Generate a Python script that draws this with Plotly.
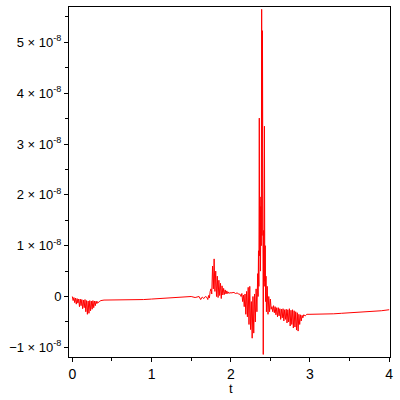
import plotly.graph_objects as go

# time samples and signal values (in units of 1e-8)
t_start = [0.00, 0.01, 0.02, 0.03, 0.04, 0.05, 0.06, 0.07, 0.08, 0.09, 0.10, 0.11, 0.12, 0.13,
           0.14, 0.15, 0.16, 0.17, 0.18, 0.19, 0.20, 0.21, 0.22, 0.23, 0.24, 0.25, 0.26, 0.27,
           0.28, 0.29, 0.30, 0.31, 0.32, 0.33, 0.34, 0.35, 0.36]
v_start = [0.00, -0.08, -0.02, -0.12, -0.03, -0.15, -0.04, -0.13, -0.05, -0.20, -0.05, -0.18,
           -0.06, -0.24, -0.07, -0.22, -0.06, -0.30, -0.08, -0.35, -0.09, -0.33, -0.08, -0.28,
           -0.09, -0.25, -0.08, -0.22, -0.09, -0.18, -0.09, -0.14, -0.10, -0.12, -0.10, -0.09, -0.08]

t_flat1 = [0.40, 0.50, 0.60, 0.70, 0.80, 0.90, 1.00, 1.10, 1.20, 1.30, 1.40, 1.50, 1.55, 1.60,
           1.62, 1.64, 1.66, 1.68]
v_flat1 = [-0.07, -0.07, -0.07, -0.07, -0.06, -0.06, -0.05, -0.04, -0.03, -0.01, 0.00, 0.00,
           -0.02, 0.00, -0.06, -0.01, -0.04, 0.00]

t_bump = [1.70, 1.71, 1.72, 1.73, 1.74, 1.75, 1.76, 1.77, 1.78, 1.79, 1.80, 1.81, 1.82, 1.83,
          1.84, 1.85, 1.86, 1.87, 1.88, 1.89, 1.90, 1.91, 1.92, 1.93, 1.94, 1.95, 1.96, 1.97,
          1.98, 1.99, 2.00, 2.02, 2.04, 2.06, 2.08, 2.10]
v_bump = [-0.02, -0.06, 0.02, -0.03, 0.10, 0.15, 0.05, 0.60, 0.15, 0.74, 0.10, 0.50, 0.00, 0.40,
          -0.02, 0.32, 0.02, 0.26, -0.04, 0.21, 0.03, 0.16, 0.04, 0.13, 0.05, 0.11, 0.06, 0.09,
          0.06, 0.08, 0.07, 0.07, 0.08, 0.06, 0.07, 0.05]

t_pre = [2.12, 2.13, 2.14, 2.15, 2.16, 2.17, 2.18, 2.19, 2.20, 2.21, 2.22, 2.23, 2.24, 2.25,
         2.26, 2.27, 2.28, 2.29, 2.30, 2.31, 2.32, 2.33]
v_pre = [0.04, 0.00, 0.06, -0.10, 0.03, -0.20, 0.05, -0.35, 0.10, -0.40, 0.18, -0.55, 0.20,
         -0.65, -0.10, -0.82, 0.00, -0.72, 0.05, -0.50, 0.15, -0.30]

t_spike = [2.34, 2.345, 2.35, 2.355, 2.36, 2.365, 2.37, 2.375, 2.38, 2.385, 2.39, 2.395, 2.40,
           2.405, 2.41, 2.415, 2.42, 2.425, 2.43, 2.435, 2.44, 2.445, 2.45, 2.46, 2.47, 2.48,
           2.49, 2.50, 2.51]
v_spike = [0.45, 0.00, 0.90, 0.20, 3.51, 0.80, 1.96, 0.50, 1.77, 1.00, 5.65, 1.20, 5.23, 0.60,
           -1.14, 1.30, 0.30, 3.35, 0.20, 1.00, -0.10, 0.40, -0.30, 0.20, -0.35, 0.00, -0.30,
           -0.05, -0.25]

t_post = [2.52, 2.53, 2.54, 2.55, 2.56, 2.57, 2.58, 2.59, 2.60, 2.61, 2.62, 2.63, 2.64, 2.65,
          2.66, 2.67, 2.68, 2.69, 2.70, 2.71, 2.72, 2.73, 2.74, 2.75, 2.76, 2.77, 2.78, 2.79,
          2.80, 2.81, 2.82, 2.83, 2.84, 2.85, 2.86, 2.87, 2.88, 2.89, 2.90, 2.91, 2.92, 2.94, 2.96]
v_post = [-0.20, -0.30, -0.18, -0.32, -0.20, -0.36, -0.22, -0.40, -0.22, -0.38, -0.24, -0.45,
          -0.25, -0.42, -0.24, -0.48, -0.26, -0.45, -0.25, -0.52, -0.26, -0.50, -0.24, -0.58,
          -0.27, -0.55, -0.26, -0.62, -0.28, -0.60, -0.30, -0.66, -0.32, -0.68, -0.35, -0.55,
          -0.36, -0.48, -0.37, -0.42, -0.36, -0.38, -0.35]

t_tail = [3.00, 3.10, 3.20, 3.30, 3.40, 3.50, 3.60, 3.70, 3.80, 3.90, 4.00]
v_tail = [-0.35, -0.35, -0.34, -0.34, -0.33, -0.32, -0.32, -0.31, -0.29, -0.28, -0.26]

t_all = t_start + t_flat1 + t_bump + t_pre + t_spike + t_post + t_tail
v_all = v_start + v_flat1 + v_bump + v_pre + v_spike + v_post + v_tail

y_tick_vals = [-1, 0, 1, 2, 3, 4, 5]
y_tick_text = ["\u22121 \u00d7 10<sup>-8</sup>", "0", "1 \u00d7 10<sup>-8</sup>",
               "2 \u00d7 10<sup>-8</sup>", "3 \u00d7 10<sup>-8</sup>",
               "4 \u00d7 10<sup>-8</sup>", "5 \u00d7 10<sup>-8</sup>"]
x_tick_vals = [0, 1, 2, 3, 4]

fig = go.Figure()
fig.add_trace(go.Scatter(x=t_all, y=v_all, mode="lines",
                         line=dict(color="#ff0000", width=1), showlegend=False,
                         hoverinfo="skip"))

font_main = "Liberation Sans, Arial, sans-serif"
fig.update_layout(
    width=400, height=400,
    margin=dict(l=69, r=10, t=7, b=43),
    paper_bgcolor="white", plot_bgcolor="white",
    font=dict(family=font_main, color="black", size=13),
    xaxis=dict(range=[-0.042, 4.01], tickvals=x_tick_vals, ticktext=[str(v) for v in x_tick_vals],
               ticks="outside", ticklen=4, tickcolor="black", showgrid=False, zeroline=False,
               showline=True, linecolor="black", linewidth=1, mirror=True, automargin=False,
               tickfont=dict(size=14),
               minor=dict(dtick=0.5, tick0=0, ticks="outside", ticklen=3, tickcolor="black")),
    yaxis=dict(range=[-1.19, 5.696], tickvals=y_tick_vals, ticktext=y_tick_text,
               ticks="outside", ticklen=4, tickcolor="black", showgrid=False, zeroline=False,
               showline=True, linecolor="black", linewidth=1, mirror=True, automargin=False,
               tickfont=dict(size=13),
               minor=dict(dtick=0.5, tick0=0, ticks="outside", ticklen=3, tickcolor="black")),
    annotations=[dict(text="t", xref="x", yref="paper", x=2, y=-0.089, showarrow=False,
                      xanchor="center", yanchor="middle", font=dict(size=13))],
)

fig.write_html("out.html", config={"displayModeBar": False},
               post_script="document.body.style.margin='0';document.body.style.overflow='hidden';")
